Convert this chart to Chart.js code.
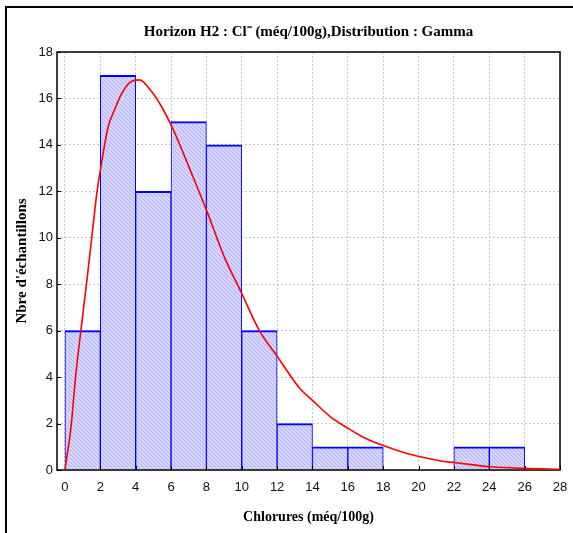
<!DOCTYPE html>
<html>
<head>
<meta charset="utf-8">
<script src="https://cdn.jsdelivr.net/npm/chart.js@4/dist/chart.umd.min.js"></script>
<style>
  html, body { margin: 0; padding: 0; background: #fff; }
  canvas { display: block; }
</style>
</head>
<body>
<canvas id="myChart" width="573" height="533"></canvas>
<script>
// histogram bins (start of each 2-unit class) and counts
const binStarts = [0, 2, 4, 6, 8, 10, 12, 14, 16, 18, 20, 22, 24, 26];
const binCounts = [6, 17, 12, 15, 14, 6, 2, 1, 1, 0, 0, 1, 1, 0];

// fitted gamma curve
const curveX = [0, 0.35, 0.6, 0.9, 1.2, 1.5, 1.8, 2.0, 2.45, 2.8, 3.2, 3.7, 4.2, 4.9, 5.5, 6.1, 7.2, 8.0, 9.0, 10.0, 11.0, 12.0, 13.3, 14.0, 15.0, 16.0, 16.9, 18.0, 19.3, 20.1, 21.2, 22.0, 23.1, 24.1, 26.0, 28.0];
const curveY = [0, 1.9, 4.0, 6.0, 7.9, 9.9, 11.9, 12.9, 14.8, 15.5, 16.2, 16.7, 16.8, 16.3, 15.6, 14.7, 12.7, 11.2, 9.2, 7.6, 6.0, 4.9, 3.5, 3.0, 2.3, 1.8, 1.4, 1.05, 0.72, 0.57, 0.4, 0.32, 0.22, 0.14, 0.07, 0.03];

const xTicks = [0, 2, 4, 6, 8, 10, 12, 14, 16, 18, 20, 22, 24, 26, 28];
const yTicks = [0, 2, 4, 6, 8, 10, 12, 14, 16, 18];

function hatch() {
  const c = document.createElement("canvas");
  c.width = 4;
  c.height = 4;
  const g = c.getContext("2d");
  g.fillStyle = "#d4d4ff";
  g.fillRect(0, 0, 4, 4);
  g.strokeStyle = "#b2b2f8";
  g.lineWidth = 1;
  g.beginPath();
  g.moveTo(0, 0); g.lineTo(4, 4);
  g.moveTo(-1, 3); g.lineTo(1, 5);
  g.moveTo(3, -1); g.lineTo(5, 1);
  g.stroke();
  return g.createPattern(c, "repeat");
}

// outer frame, plot border and inward ticks
const framePlugin = {
  id: "frame",
  afterDatasetDraw(chart, args) {
    if (args.meta.type !== "bar") return;
    const { ctx, chartArea: a, scales } = chart;
    ctx.save();
    ctx.strokeStyle = "#000";
    ctx.lineWidth = 1.5;
    ctx.strokeRect(a.left, a.top, a.right - a.left, a.bottom - a.top);
    ctx.lineWidth = 1;
    ctx.beginPath();
    xTicks.forEach((v) => {
      const px = Math.round(scales.x.getPixelForValue(v)) + 0.5;
      ctx.moveTo(px, a.bottom);
      ctx.lineTo(px, a.bottom - 4);
    });
    yTicks.forEach((v) => {
      const py = Math.round(scales.y.getPixelForValue(v)) + 0.5;
      ctx.moveTo(a.left, py);
      ctx.lineTo(a.left + 4, py);
    });
    ctx.stroke();
    ctx.restore();
  },
  afterDraw(chart) {
    const { ctx } = chart;
    ctx.save();
    ctx.strokeStyle = "#000";
    ctx.lineWidth = 2;
    ctx.beginPath();
    ctx.moveTo(6, 533);
    ctx.lineTo(6, 7);
    ctx.lineTo(573, 7);
    ctx.stroke();
    ctx.restore();
  },
};

const ctx = document.getElementById("myChart");

new Chart(ctx, {
  type: "bar",
  data: {
    datasets: [
      {
        type: "line",
        data: curveX.map((x, i) => ({ x: x, y: curveY[i] })),
        borderColor: "#ff0000",
        borderWidth: 1.6,
        pointRadius: 0,
        cubicInterpolationMode: "monotone",
        order: 0,
      },
      {
        type: "bar",
        data: binStarts.map((s, i) => ({ x: s + 1, y: binCounts[i] || null })),
        backgroundColor: hatch(),
        borderColor: "#0000ff",
        borderWidth: { top: 2, left: 1, right: 1, bottom: 0 },
        borderSkipped: false,
        barPercentage: 1,
        categoryPercentage: 1,
        order: 1,
      },
    ],
  },
  options: {
    responsive: false,
    animation: false,
    devicePixelRatio: 1,
    layout: { padding: { left: 0, right: 13, top: 0, bottom: 0 } },
    scales: {
      x: {
        type: "linear",
        offset: false,
        min: -0.45,
        max: 28,
        afterBuildTicks: (axis) => {
          axis.ticks = xTicks.map((v) => ({ value: v }));
        },
        afterFit: (axis) => {
          axis.height = 63;
        },
        grid: {
          offset: false,
          color: "#c8c8c8",
          drawTicks: true,
          tickLength: 7,
          tickColor: "rgba(0,0,0,0)",
        },
        border: { display: false, dash: [2, 2] },
        ticks: {
          padding: 3,
          color: "#111",
          maxRotation: 0,
          autoSkip: false,
          font: { family: "Liberation Sans", size: 13 },
        },
        title: {
          display: true,
          text: "Chlorures (méq/100g)",
          color: "#000",
          padding: { top: 0, bottom: 7 },
          font: { family: "Liberation Serif", size: 14, weight: "bold" },
        },
      },
      y: {
        min: 0,
        max: 18,
        afterBuildTicks: (axis) => {
          axis.ticks = yTicks.map((v) => ({ value: v }));
        },
        afterFit: (axis) => {
          axis.width = 57;
        },
        grid: {
          color: "#c8c8c8",
          drawTicks: false,
        },
        border: { display: false, dash: [2, 2] },
        ticks: {
          padding: 4,
          color: "#111",
          font: { family: "Liberation Sans", size: 13 },
        },
        title: {
          display: true,
          text: "Nbre d'échantillons",
          color: "#000",
          padding: { top: 13, bottom: 0 },
          font: { family: "Liberation Serif", size: 15, weight: "bold" },
        },
      },
    },
    plugins: {
      legend: { display: false },
      tooltip: { enabled: false },
      title: {
        display: true,
        fullSize: false,
        text: "Horizon H2 : Cl⁻ (méq/100g),Distribution : Gamma",
        color: "#000",
        font: { family: "Liberation Serif", size: 15, weight: "bold" },
        padding: { top: 23, bottom: 11 },
      },
    },
  },
  plugins: [framePlugin],
});
</script>
</body>
</html>
